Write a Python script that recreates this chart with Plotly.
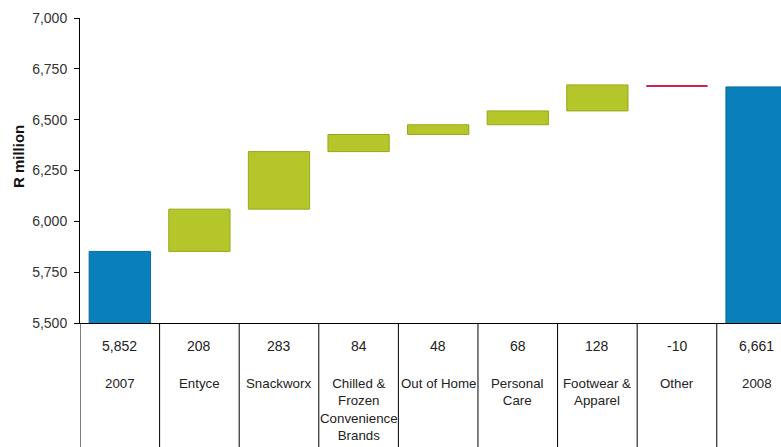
import plotly.graph_objects as go

categories = ["2007", "Entyce", "Snackworx", "Chilled &<br>Frozen<br>Convenience<br>Brands",
              "Out of Home", "Personal<br>Care", "Footwear &<br>Apparel", "Other", "2008"]
values = [5852, 208, 283, 84, 48, 68, 128, -10, 6661]
value_labels = ["5,852", "208", "283", "84", "48", "68", "128", "-10", "6,661"]
measures = ["absolute", "relative", "relative", "relative", "relative", "relative",
            "relative", "relative", "total"]
y_ticks = [5500, 5750, 6000, 6250, 6500, 6750, 7000]

FONT = "Liberation Sans, Arial, sans-serif"
BLUE = "#0A80BB"
GREEN = "#B5C62A"
RED = "#C8245A"

x = list(range(len(categories)))

fig = go.Figure()
fig.add_trace(go.Waterfall(
    x=x, y=values, measure=measures,
    width=0.77,
    connector=dict(visible=False),
    increasing=dict(marker=dict(color=GREEN, line=dict(color="#98A81E", width=1))),
    decreasing=dict(marker=dict(color=RED, line=dict(color=RED, width=0))),
    totals=dict(marker=dict(color=BLUE, line=dict(color="#086C9C", width=1))),
    textinfo="none", hoverinfo="skip",
))

# table separators
for i in range(len(categories) + 1):
    fig.add_shape(type="line", xref="x", yref="paper", x0=i - 0.5, x1=i - 0.5,
                  y0=0, y1=-0.6, line=dict(color="black", width=1), layer="above")

for i, (cat, vl) in enumerate(zip(categories, value_labels)):
    fig.add_annotation(x=i, xref="x", y=0, yref="paper", yanchor="top", yshift=-13,
                       text=vl, showarrow=False,
                       font=dict(family=FONT, size=14, color="#222"))
    fig.add_annotation(x=i, xref="x", y=0, yref="paper", yanchor="top", yshift=-51,
                       text=cat, showarrow=False,
                       font=dict(family=FONT, size=13.3, color="#222"))

# y-axis title (placed as in the original, centred a little above the plot centre)
fig.add_annotation(xref="paper", yref="paper", x=0, xshift=-62, xanchor="center",
                   y=0.544, yanchor="middle",
                   text="<b>R million</b>", textangle=-90, showarrow=False,
                   font=dict(family=FONT, size=15, color="#111"))

fig.update_layout(
    width=781, height=447,
    margin=dict(l=80, r=0, t=18, b=124),
    plot_bgcolor="white", paper_bgcolor="white",
    showlegend=False,
    font=dict(family=FONT, size=13, color="#333"),
    xaxis=dict(range=[-0.5, 8.307], showticklabels=False, ticks="",
               showline=True, linecolor="black", linewidth=1, showgrid=False,
               zeroline=False, fixedrange=True),
    yaxis=dict(range=[5500, 7000], tickvals=y_ticks, tickformat=",",
               ticks="outside", ticklen=5, tickcolor="black", ticklabelstandoff=4,
               tickfont=dict(family=FONT, size=14, color="#333"),
               showline=True, linecolor="black", linewidth=1, showgrid=False,
               zeroline=False),
)

fig.write_html("out.html")
